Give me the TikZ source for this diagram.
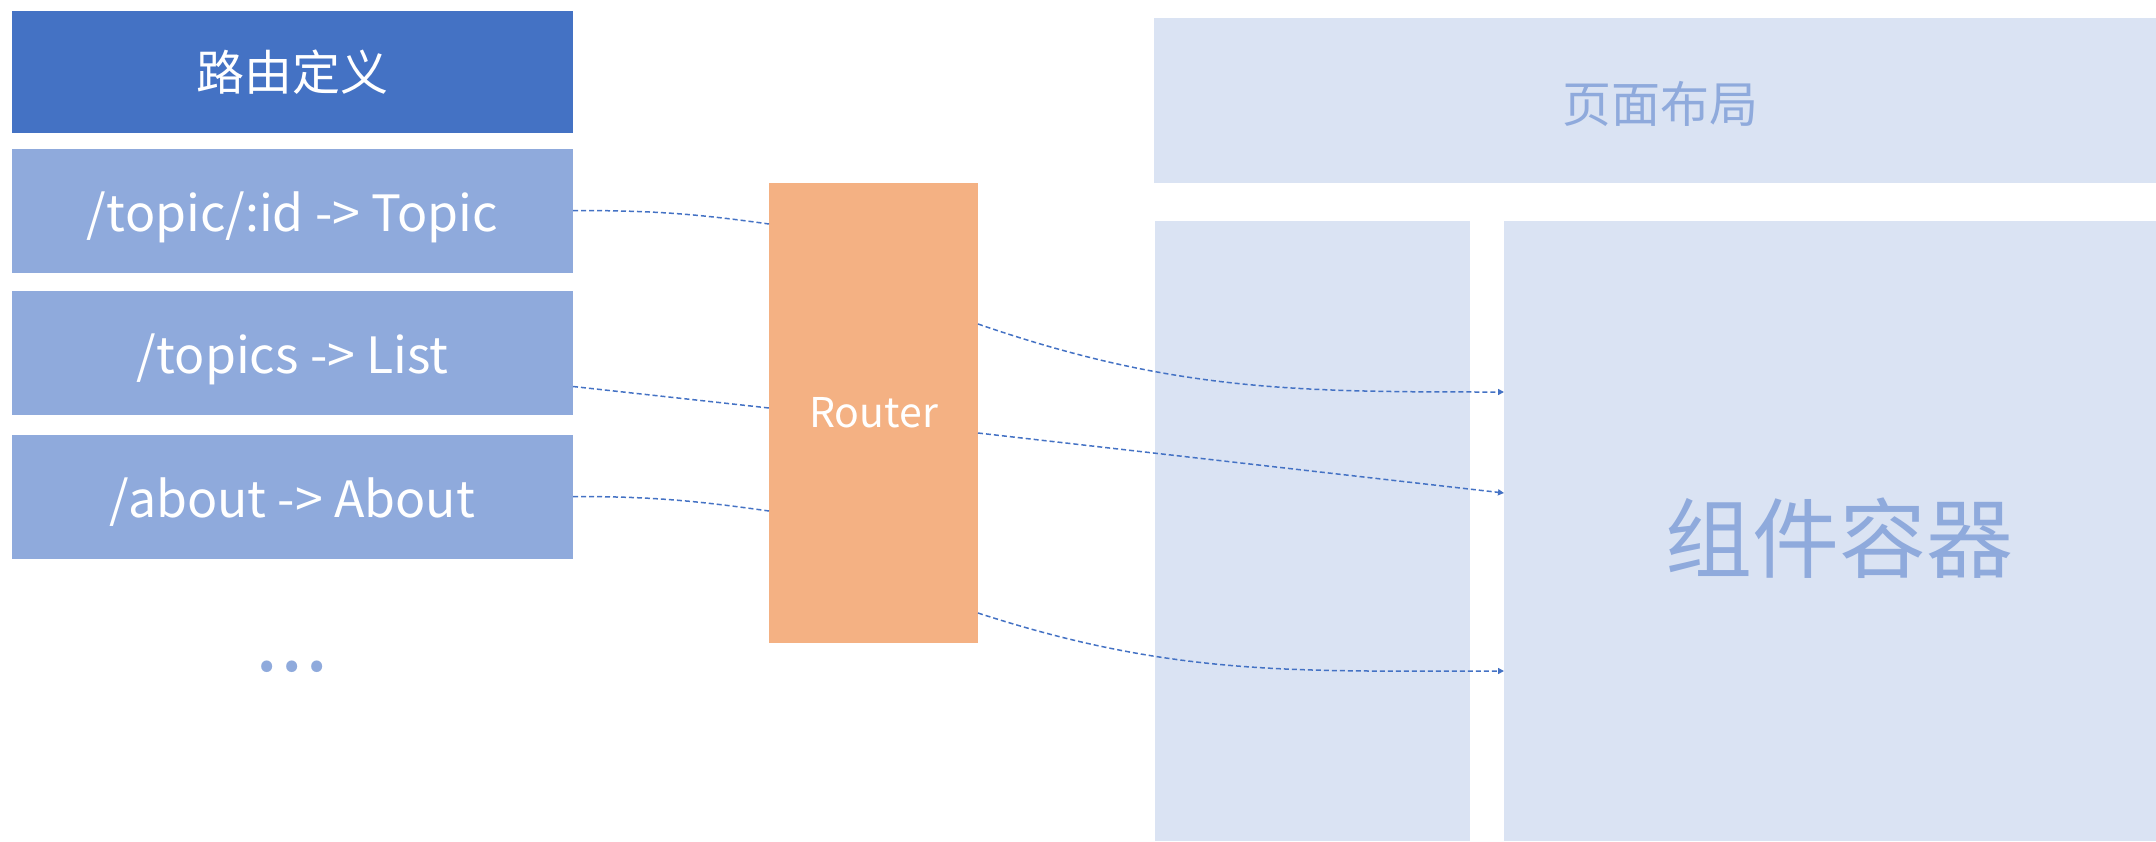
\documentclass[tikz,border=0pt]{standalone}
\usepackage{fontspec}
\setmainfont{Noto Sans CJK SC}
\usetikzlibrary{arrows.meta}
\definecolor{hdr}{HTML}{4472C4}
\definecolor{rowc}{HTML}{8FAADC}
\definecolor{rtr}{HTML}{F4B183}
\definecolor{lay}{HTML}{DAE3F3}
\definecolor{lnc}{HTML}{4472C4}
\tikzset{
  box/.style={rectangle,inner sep=0pt,outer sep=0pt,draw=none},
  hdrbox/.style={box,fill=hdr,minimum width=561pt,minimum height=122pt,text=white,font=\fontsize{48pt}{56pt}\selectfont},
  rowbox/.style={box,fill=rowc,minimum width=561pt,minimum height=124pt,text=white,font=\fontsize{50pt}{58pt}\selectfont,text height=41pt,text depth=0pt},
  laybox/.style={box,fill=lay},
  laytext/.style={box,text=rowc},
  link/.style={draw=lnc,line width=1.5pt,dash pattern=on 5pt off 3pt},
  linkarr/.style={link,-{Triangle[length=6pt,width=6pt]}}
}
\begin{document}
\begin{tikzpicture}[x=1pt,y=-1pt]
\useasboundingbox (0,0) rectangle (2156,841);
\node[hdrbox] (hdr) at (292.5,72) {路由定义};
\node[rowbox] (r1) at (292.5,210.5) {/topic/:id -> Topic};
\node[rowbox] (r2) at (292.5,352.5) {/topics -> List};
\node[rowbox] (r3) at (292.5,496.5) {/about -> About};
\node[box,text=rowc,anchor=base,font=\fontsize{84pt}{90pt}\selectfont] (dots) at (292,671) {.\kern1.5pt.\kern1.5pt.};
\node[box,fill=rtr,minimum width=209pt,minimum height=460pt,text=white,font=\fontsize{41pt}{48pt}\selectfont] (router) at (873.5,413) {Router};
\node[laybox,minimum width=1002pt,minimum height=165pt] (layout) at (1655,100.5) {};
\node[laytext,font=\fontsize{49pt}{56pt}\selectfont] (laylbl) at (1660,104) {页面布局};
\node[laybox,minimum width=315pt,minimum height=620pt] (side) at (1312.5,531) {};
\node[laybox,minimum width=652pt,minimum height=620pt] (cont) at (1830,531) {};
\node[laytext,font=\fontsize{87pt}{96pt}\selectfont] (contlbl) at (1839,538) {组件容器};
% left connectors
\draw[link] (r1.east) to[out=0,in=172] ([yshift=189pt]router.west);
\draw[link] ([yshift=-34pt]r2.east) -- ([yshift=5pt]router.west);
\draw[link] (r3.east) to[out=0,in=172] ([yshift=-98pt]router.west);
% right connectors
\draw[linkarr] ([yshift=89pt]router.east) to[out=-19,in=180] ([yshift=139pt]cont.west);
\draw[linkarr] ([yshift=-20pt]router.east) -- ([yshift=38pt]cont.west);
\draw[linkarr] ([yshift=-200pt]router.east) to[out=-18,in=180] ([yshift=-140pt]cont.west);
\end{tikzpicture}
\end{document}
